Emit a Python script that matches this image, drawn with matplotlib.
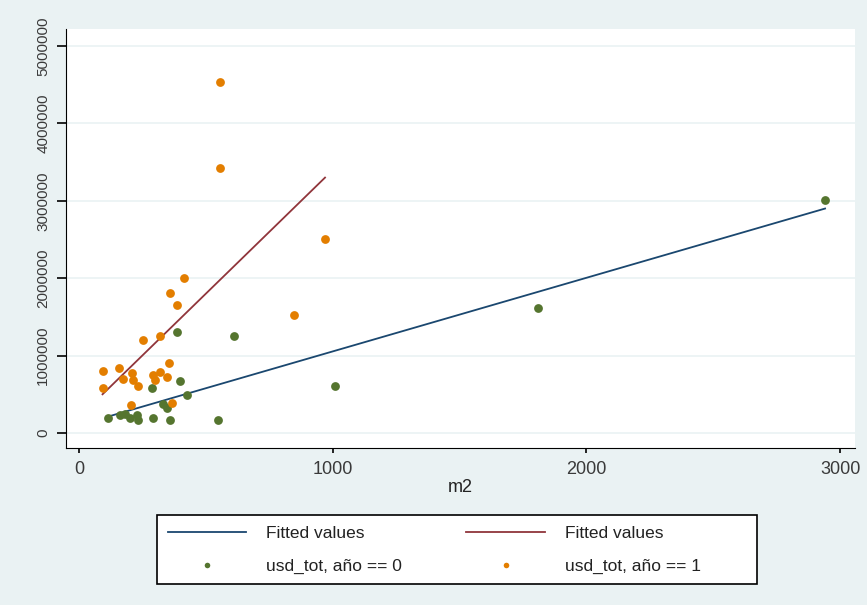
import matplotlib.pyplot as plt
from matplotlib.lines import Line2D
from matplotlib.patches import Rectangle

plt.rcParams['font.family'] = ['Liberation Sans', 'DejaVu Sans']

# año == 0
m2_0 = [113, 162, 181, 201, 227, 234, 293, 359, 332, 346, 287, 398, 424,
        385, 611, 547, 1009, 1810, 2941]
usd_0 = [200000, 230000, 250000, 200000, 230000, 170000, 200000, 170000,
         380000, 320000, 580000, 670000, 490000, 1310000, 1250000, 170000,
         610000, 1610000, 3010000]
# año == 1
m2_1 = [93, 93, 159, 172, 208, 214, 234, 293, 300, 319, 355, 346, 205, 365,
        254, 319, 359, 385, 414, 849, 556, 556, 970]
usd_1 = [800000, 585000, 840000, 700000, 770000, 685000, 610000, 750000,
         685000, 790000, 910000, 727000, 360000, 390000, 1200000, 1250000,
         1810000, 1660000, 2000000, 1520000, 4530000, 3420000, 2510000]

# fitted values (ends of the lfit lines)
fit0_x = [113, 2941]
fit0_y = [210000, 2900000]
fit1_x = [93, 970]
fit1_y = [500000, 3300000]

navy = '#1a476f'
maroon = '#90353b'
green = '#55752f'
orange = '#e37e00'
bg = '#eaf2f3'
W, H = 867, 605

fig = plt.figure(figsize=(W/100, H/100), dpi=100, facecolor=bg)
ax = fig.add_axes([66/W, 1-448/H, (855-66)/W, (448-29)/H])
ax.set_facecolor('white')

ax.plot(fit0_x, fit0_y, color=navy, lw=1.3, zorder=3)
ax.plot(fit1_x, fit1_y, color=maroon, lw=1.3, zorder=3)
ax.scatter(m2_0, usd_0, s=40, color=green, lw=0, zorder=4)
ax.scatter(m2_1, usd_1, s=40, color=orange, lw=0, zorder=4)

ax.set_xlim(-51, 3059)
ax.set_ylim(-194000, 5220000)
ax.set_xticks([0, 1000, 2000, 3000])
ax.set_yticks([0, 1000000, 2000000, 3000000, 4000000, 5000000])
ax.set_yticklabels(['0', '1000000', '2000000', '3000000', '4000000', '5000000'],
                   rotation=90, va='center')
ax.grid(axis='y', color=bg, lw=1.2)
ax.set_axisbelow(True)
for s in ['top', 'right']:
    ax.spines[s].set_visible(False)
ax.tick_params(axis='x', direction='out', length=3.8, width=1.2,
               labelsize=13, labelcolor='#3a3a3a', pad=5.5)
ax.tick_params(axis='y', direction='out', length=6.5, width=1.2,
               labelsize=11, labelcolor='#3a3a3a', pad=4.9)
ax.set_xlabel('m2', fontsize=13, labelpad=1, color='#222222')

# legend box
fig.patches.append(Rectangle((157/W, 1-584/H), 600/W, 69/H,
                             transform=fig.transFigure, facecolor='white',
                             edgecolor='black', lw=1.2))
handles = [Line2D([], [], color=navy, lw=1.3),
           Line2D([], [], ls='', marker='o', ms=4, color=green, mew=0),
           Line2D([], [], color=maroon, lw=1.3),
           Line2D([], [], ls='', marker='o', ms=4, color=orange, mew=0)]
labels = ['Fitted values', 'usd_tot, año == 0',
          'Fitted values', 'usd_tot, año == 1']
leg = fig.legend(handles, labels, ncol=2, loc='upper left',
                 bbox_to_anchor=(157/W, 1-515/H), borderaxespad=0,
                 fontsize=12.5, frameon=False, handlelength=4.5,
                 handletextpad=1.15, columnspacing=3.7, borderpad=0.65,
                 labelspacing=1.0)
for t in leg.get_texts():
    t.set_color('#222222')

fig.savefig('out.png', dpi=100, facecolor=bg)
